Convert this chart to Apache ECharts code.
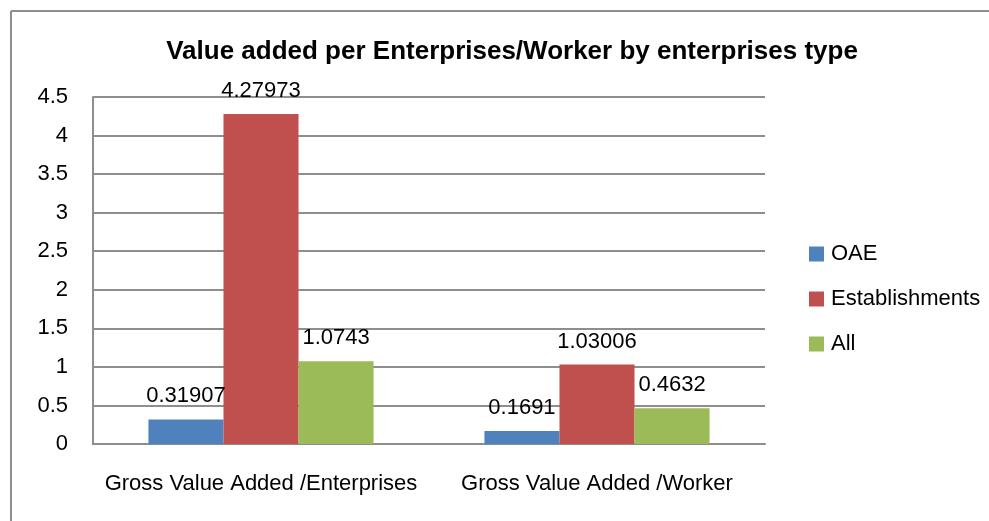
<!DOCTYPE html>
<html>
<head>
<meta charset="utf-8">
<script src="https://cdn.jsdelivr.net/npm/echarts@6/dist/echarts.min.js"></script>
<style>
html,body{margin:0;padding:0;background:#fff;}
#chart{width:989px;height:521px;}
</style>
</head>
<body>
<div id="chart"></div>
<script>
const categories = ["Gross Value Added /Enterprises", "Gross Value Added /Worker"];
const oae = [0.31907, 0.1691];
const establishments = [4.27973, 1.03006];
const all = [1.0743, 0.4632];
const seriesNames = ["OAE", "Establishments", "All"];
const yTicks = { min: 0, max: 4.5, interval: 0.5 };

const FONT = "'Liberation Sans', Arial, sans-serif";
const GRAY = '#8e8e8e';

const chart = echarts.init(document.getElementById('chart'), null, { renderer: 'canvas' });

const labelCfg = {
  show: true,
  position: 'top',
  distance: 12,
  color: '#000',
  fontFamily: FONT,
  fontSize: 22,
  formatter: p => String(p.value)
};

chart.setOption({
  animation: false,
  backgroundColor: '#fff',
  graphic: [
    { type: 'line', shape: { x1: 11, y1: 11, x2: 989, y2: 11 }, style: { stroke: GRAY, lineWidth: 2 } },
    { type: 'line', shape: { x1: 11, y1: 11, x2: 11, y2: 521 }, style: { stroke: GRAY, lineWidth: 2 } }
  ],
  title: {
    text: 'Value added per Enterprises/Worker by enterprises type',
    left: 507,
    textAlign: 'center',
    top: 34,
    textStyle: { fontFamily: FONT, fontWeight: 'bold', fontSize: 26, color: '#000' }
  },
  legend: {
    orient: 'vertical',
    left: 804,
    top: 238,
    itemWidth: 15,
    itemHeight: 15,
    itemGap: 23,
    icon: 'rect',
    textStyle: { fontFamily: FONT, fontSize: 22, color: '#000', padding: [0, 0, 0, 2] },
    data: seriesNames
  },
  grid: { left: 93, right: 224, top: 97, bottom: 77, containLabel: false },
  xAxis: {
    type: 'category',
    data: categories,
    axisLine: { show: true, lineStyle: { color: GRAY, width: 2 } },
    axisTick: { show: false },
    axisLabel: { interval: 0, hideOverlap: false, margin: 29, color: '#000', fontFamily: FONT, fontSize: 22 }
  },
  yAxis: {
    type: 'value',
    min: yTicks.min,
    max: yTicks.max,
    interval: yTicks.interval,
    axisLine: { show: true, lineStyle: { color: GRAY, width: 2 } },
    axisTick: { show: false },
    splitLine: { show: true, lineStyle: { color: GRAY, width: 2 } },
    axisLabel: { margin: 25, color: '#000', fontFamily: FONT, fontSize: 22, padding: [4, 0, 0, 0] }
  },
  series: [
    { name: seriesNames[0], type: 'bar', data: oae, barGap: '0%', barCategoryGap: '33%', itemStyle: { color: '#4F81BD' }, label: labelCfg },
    { name: seriesNames[1], type: 'bar', data: establishments, barGap: '0%', barCategoryGap: '33%', itemStyle: { color: '#C0504D' }, label: labelCfg },
    { name: seriesNames[2], type: 'bar', data: all, barGap: '0%', barCategoryGap: '33%', itemStyle: { color: '#9BBB59' }, label: labelCfg }
  ]
});
</script>
</body>
</html>
